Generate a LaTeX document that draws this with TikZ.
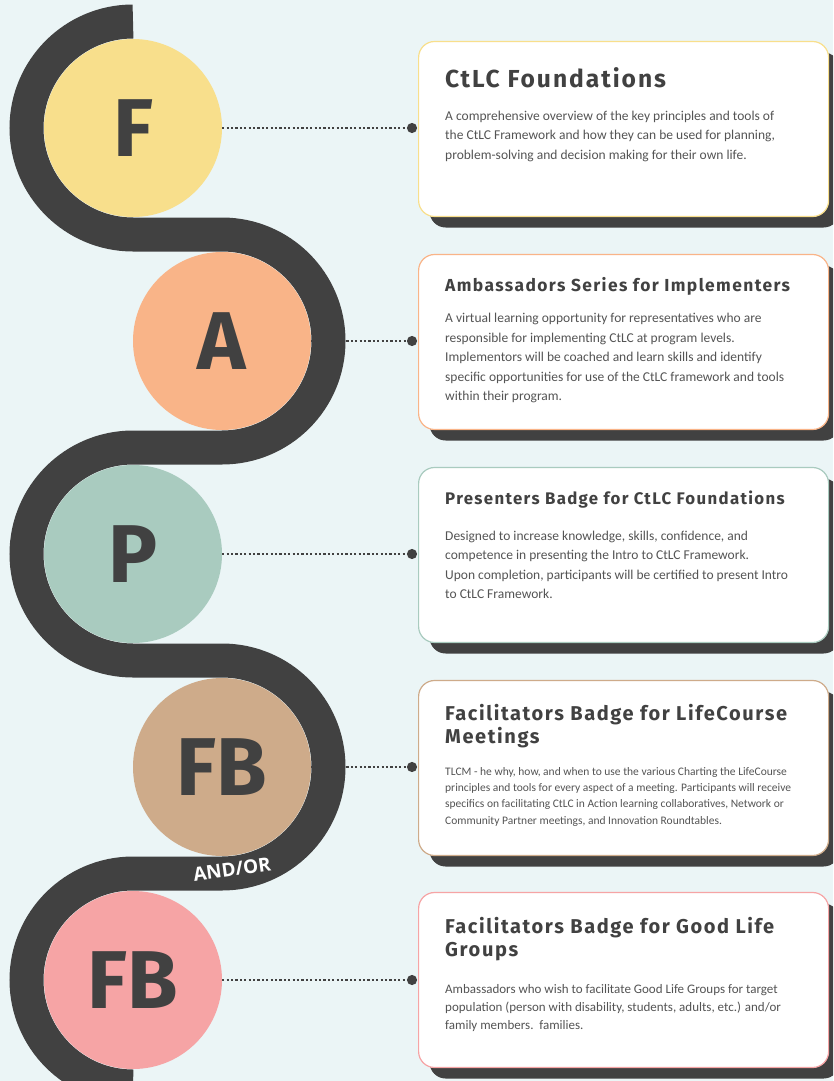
\documentclass[tikz,border=0pt]{standalone}
\usepackage{fontspec}
\setmainfont{Carlito}
\newfontfamily\headfont[LetterSpace=8]{Fira Sans}
\newfontfamily\badgefont{Fira Sans}
\newfontfamily\joinfont{Open Sans}
\usetikzlibrary{shapes,arrows.meta,positioning,shadows}
\definecolor{paper}{HTML}{EBF5F6}
\definecolor{ink}{HTML}{414141}
\definecolor{cyellow}{HTML}{F8DF8C}
\definecolor{corange}{HTML}{F9B488}
\definecolor{csage}{HTML}{A9CBBF}
\definecolor{ctan}{HTML}{CEAB8A}
\definecolor{cpink}{HTML}{F6A4A5}
\newcommand\headsize[2]{\headfont\bfseries\fontsize{#1}{#2}\selectfont}
\newcommand\bodysize[2]{\fontsize{#1}{#2}\selectfont}
\pgfdeclarelayer{back}
\pgfsetlayers{back,main}

\begin{document}
\begin{tikzpicture}[x=1pt, y=-1pt,
	track/.style={draw=ink, line width=34pt},
	badge/.style={circle, fill=#1, minimum size=178pt, inner sep=0pt, text=ink, font=\badgefont\bfseries\fontsize{82}{82}\selectfont},
	card/.style={draw=#1, line width=1.2pt, fill=white, rounded corners=16pt, minimum width=410pt, minimum height=175pt, anchor=west, drop shadow={shadow xshift=11pt, shadow yshift=-11pt, fill=ink, opacity=1}},
	title/.style={anchor=north west, inner sep=0pt, align=left, text=ink},
	body/.style={anchor=north west, inner sep=0pt, align=left, text=ink!90},
	link/.style={ink, line width=2.2pt, dash pattern=on 2.2pt off 2.2pt, -{Circle[length=10pt]}, shorten >=1pt}]
				\useasboundingbox (0,0) rectangle (833,1081);
				\clip (0,0) rectangle (833,1081);
				
				\draw[track] (133,21.5) arc[start angle=270, end angle=90, radius=106.5] -- (222,234.5)
					arc[start angle=-90, end angle=90, radius=106.5] -- (133,447.5)
					arc[start angle=270, end angle=90, radius=106.5] -- (222,660.5)
					arc[start angle=-90, end angle=90, radius=106.5] -- (133,873.5)
					arc[start angle=270, end angle=90, radius=106.5];
				
				\node[badge=cyellow] (f) at (133,128) {F};
				\node[badge=corange] (a) at (222,341) {A};
				\node[badge=csage] (p) at (133,554) {P};
				\node[badge=ctan] (fb) at (222,767) {FB};
				\node[badge=cpink] (fbg) at (133,980) {FB};
				\node[text=white, font=\joinfont\bfseries\fontsize{19}{19}\selectfont, rotate=8, inner sep=0pt] (andor) at (232,869) {AND/OR};
				
				\node[card=cyellow] (fcard) at (418,129) {};
				\node[card=corange] (acard) at (418,342) {};
				\node[card=csage] (pcard) at (418,555) {};
				\node[card=ctan] (fbcard) at (418,768) {};
				\node[card=cpink] (fbgcard) at (418,980) {};
				
				\node[title, font=\headsize{24.6}{28}] (ftitle) at ([xshift=27pt, yshift=-26pt]fcard.north west) {CtLC Foundations};
				\node[body, font=\bodysize{13.5}{19.5}, below right=23pt and 0pt of ftitle.south west] (fbody) {A comprehensive overview of the key principles and tools of\\the CtLC Framework and how they can be used for planning,\\problem-solving and decision making for their own life.};
				
				\node[title, font=\headsize{17.4}{21}] (atitle) at ([xshift=27pt, yshift=-23pt]acard.north west) {Ambassadors Series for Implementers};
				\node[body, font=\bodysize{13.5}{19.5}, below right=18pt and 0pt of atitle.south west] (abody) {A virtual learning opportunity for representatives who are\\responsible for implementing CtLC at program levels.\\Implementors will be coached and learn skills and identify\\specific opportunities for use of the CtLC framework and tools\\within their program.};
				
				\node[title, font=\headsize{16.8}{21}] (ptitle) at ([xshift=27pt, yshift=-24pt]pcard.north west) {Presenters Badge for CtLC Foundations};
				\node[body, font=\bodysize{13.5}{19.5}, below right=22pt and 0pt of ptitle.south west] (pbody) {Designed to increase knowledge, skills, confidence, and\\competence in presenting the Intro to CtLC Framework.\\Upon completion, participants will be certified to present Intro\\to CtLC Framework.};
				
				\node[title, font=\headsize{20}{23}] (fbtitle) at ([xshift=27pt, yshift=-24pt]fbcard.north west) {Facilitators Badge for LifeCourse\\Meetings};
				\node[body, font=\bodysize{11.5}{16.3}, below right=19pt and 0pt of fbtitle.south west] (fbbody) {TLCM - he why, how, and when to use the various Charting the LifeCourse\\principles and tools for every aspect of a meeting. Participants will receive\\specifics on facilitating CtLC in Action learning collaboratives, Network or\\Community Partner meetings, and Innovation Roundtables.};
				
				\node[title, font=\headsize{20}{23}] (fbgtitle) at ([xshift=27pt, yshift=-25pt]fbgcard.north west) {Facilitators Badge for Good Life\\Groups};
				\node[body, font=\bodysize{13}{18}, below right=23pt and 0pt of fbgtitle.south west] (fbgbody) {Ambassadors who wish to facilitate Good Life Groups for target\\population (person with disability, students, adults, etc.) and/or\\family members.\ \ families.};
				
				\begin{pgfonlayer}{back}
					\fill[paper] (0,0) rectangle (833,1081);
					\draw[link] (f) -- (f -| fcard.west);
					\draw[link] (a) -- (a -| acard.west);
					\draw[link] (p) -- (p -| pcard.west);
					\draw[link] (fb) -- (fb -| fbcard.west);
					\draw[link] (fbg) -- (fbg -| fbgcard.west);
				\end{pgfonlayer}
			\end{tikzpicture}
\end{document}
